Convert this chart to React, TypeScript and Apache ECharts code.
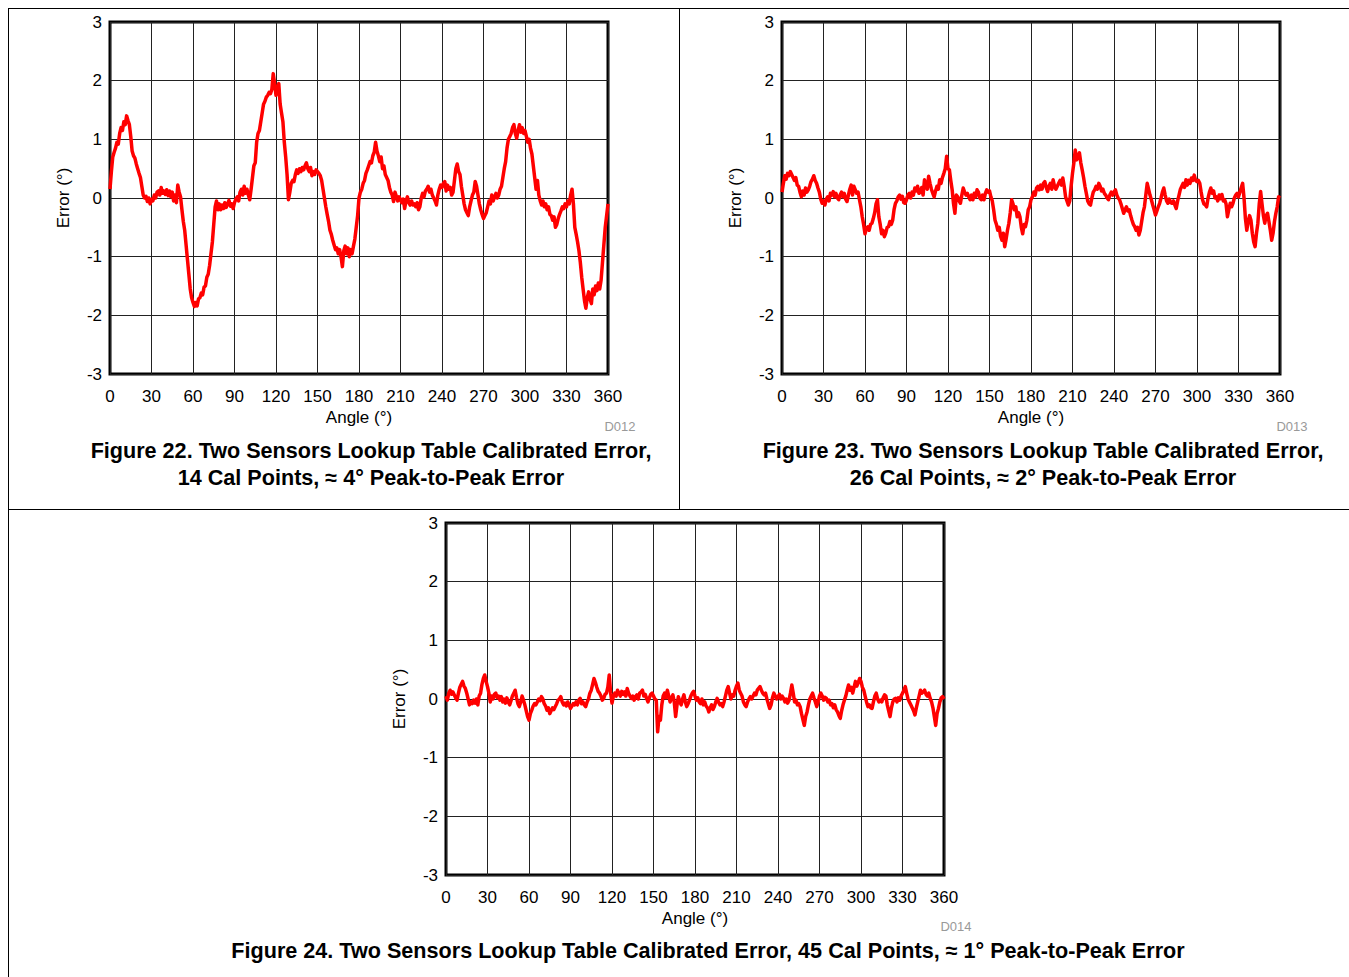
import React, { useEffect, useRef } from "react";
import * as echarts from "echarts";

// Sampling grid for all three traces: one reading per degree, 0..360
const ANGLE_STEP_DEG = 1;

const X_TICKS = [0, 30, 60, 90, 120, 150, 180, 210, 240, 270, 300, 330, 360];
const Y_TICKS = [-3, -2, -1, 0, 1, 2, 3];

// Figure 22: 14 cal points, error (deg) per degree of angle
const fig22Error = [
  0.15, 0.45, 0.7, 0.78, 0.85, 0.95, 0.92, 1.1, 1.2, 1.15,
  1.3, 1.25, 1.4, 1.32, 1.25, 1.05, 0.8, 0.72, 0.68, 0.58,
  0.5, 0.42, 0.35, 0.2, 0.05, 0.0, 0.03, -0.06, 0.0, -0.1,
  -0.02, -0.05, 0.05, 0.0, 0.1, 0.12, 0.05, 0.18, 0.08, 0.12,
  0.06, 0.14, 0.04, 0.12, 0.02, 0.1, -0.05, 0.05, -0.08, 0.22,
  0.1, 0.02, -0.2, -0.4, -0.55, -0.8, -1.05, -1.3, -1.55, -1.7,
  -1.78, -1.85, -1.78, -1.84, -1.72, -1.7, -1.62, -1.65, -1.52, -1.5,
  -1.35, -1.3, -1.15, -0.95, -0.75, -0.45, -0.15, -0.05, -0.2, -0.1,
  -0.2, -0.12, -0.18, -0.08, -0.16, -0.1, -0.04, -0.14, -0.1, -0.18,
  -0.08, -0.02, 0.02, -0.05, 0.1, 0.15, 0.05, 0.2, 0.08, 0.15,
  0.05, -0.03, 0.15, 0.35, 0.55, 0.6, 0.95, 1.1, 1.15, 1.3,
  1.45, 1.6, 1.65, 1.72, 1.75, 1.8, 1.78, 1.85, 2.12, 1.95,
  1.75, 1.85, 1.95, 1.6, 1.45, 1.3, 0.95, 0.7, 0.4, -0.03,
  0.1, 0.25, 0.3, 0.28, 0.4, 0.48, 0.42, 0.5, 0.45, 0.52,
  0.48, 0.55, 0.6, 0.5, 0.45, 0.52, 0.38, 0.45, 0.4, 0.48,
  0.45, 0.42, 0.38, 0.3, 0.15, 0.0, -0.15, -0.28, -0.4, -0.55,
  -0.62, -0.72, -0.8, -0.88, -0.85, -0.95, -0.88, -1.0, -1.17, -0.9,
  -0.82, -0.95, -0.85, -1.0, -0.88, -0.95, -0.82, -0.7, -0.5, -0.3,
  0.0, 0.1, 0.15, 0.25, 0.3, 0.42, 0.48, 0.55, 0.62, 0.6,
  0.72, 0.78, 0.95, 0.8, 0.72, 0.62, 0.7, 0.5, 0.55, 0.4,
  0.35, 0.3, 0.18, 0.1, 0.05, -0.06, 0.1, 0.03, -0.05, 0.02,
  -0.03, -0.08, -0.02, -0.18, -0.05, 0.02, -0.08, -0.12, -0.05, -0.12,
  -0.1, -0.15, -0.08, -0.2, -0.15, 0.0, 0.08, 0.02, 0.12, 0.15,
  0.2, 0.1, 0.15, 0.05, 0.0, -0.05, -0.12, 0.05, 0.15, 0.22,
  0.18, 0.25, 0.28, 0.12, 0.22, 0.15, 0.18, 0.05, 0.1, 0.3,
  0.5, 0.58, 0.45, 0.4, 0.2, 0.05, -0.1, -0.2, -0.25, -0.3,
  -0.15, -0.05, 0.05, 0.1, 0.28, 0.2, 0.05, -0.1, -0.2, -0.28,
  -0.35, -0.3, -0.25, -0.15, -0.05, -0.1, 0.05, -0.05, 0.02, 0.08,
  0.0, 0.05, 0.15, 0.2, 0.35, 0.5, 0.62, 0.85, 1.0, 1.05,
  1.1, 1.2, 1.25, 1.1, 1.02, 1.15, 1.25, 1.12, 1.2, 1.1,
  1.15, 1.05, 0.95, 1.0, 0.85, 0.75, 0.55, 0.35, 0.15, 0.3,
  0.05, -0.05, -0.12, -0.05, -0.15, -0.1, -0.2, -0.15, -0.28, -0.3,
  -0.38, -0.32, -0.5, -0.45, -0.35, -0.28, -0.22, -0.15, -0.18, -0.1,
  -0.15, -0.05, -0.1, 0.05, 0.15, -0.1, -0.5, -0.62, -0.75, -0.9,
  -1.1, -1.35, -1.55, -1.75, -1.88, -1.7, -1.6, -1.72, -1.8, -1.55,
  -1.65, -1.5, -1.58, -1.45, -1.55, -1.4, -1.1, -0.8, -0.5, -0.3,
  -0.1,
];

// Figure 23: 26 cal points
const fig23Error = [
  0.1, 0.25, 0.38, 0.32, 0.42, 0.38, 0.45, 0.4, 0.35, 0.3,
  0.35, 0.22, 0.2, 0.1, 0.02, 0.12, 0.05, 0.17, 0.1, 0.14,
  0.2, 0.28, 0.32, 0.38, 0.3, 0.25, 0.17, 0.1, -0.02, -0.09,
  -0.05, -0.12, -0.02, 0.02, -0.05, 0.08, 0.05, 0.11, 0.02, 0.08,
  0.0, -0.03, 0.05, 0.1, 0.02, 0.08, -0.02, -0.06, 0.05, 0.15,
  0.22, 0.05, 0.2, 0.14, 0.08, 0.1, -0.03, -0.15, -0.32, -0.45,
  -0.61, -0.52, -0.49, -0.55, -0.45, -0.43, -0.35, -0.25, -0.1, -0.03,
  -0.32, -0.45, -0.61, -0.55, -0.66, -0.6, -0.5, -0.49, -0.4, -0.45,
  -0.38, -0.2, -0.09, -0.05, 0.02, 0.05, -0.02, 0.03, -0.08, -0.09,
  -0.03, 0.05, 0.08, 0.0, 0.1, 0.05, 0.17, 0.12, 0.2, 0.08,
  0.1, 0.18, 0.05, 0.31, 0.2, 0.15, 0.37, 0.25, 0.15, 0.08,
  0.02, 0.12, 0.2, 0.15, 0.31, 0.25, 0.35, 0.42, 0.5, 0.71,
  0.5, 0.48, 0.3, 0.14, -0.1, -0.26, 0.05, 0.02, -0.05, -0.09,
  0.05, 0.17, 0.1, 0.05, 0.08, 0.02, -0.03, 0.05, -0.03, 0.08,
  0.02, 0.14, 0.1, 0.0, -0.03, 0.05, -0.03, 0.08, 0.14, 0.1,
  0.12, 0.02, -0.05, -0.2, -0.38, -0.45, -0.55, -0.5, -0.65, -0.72,
  -0.6, -0.83, -0.7, -0.55, -0.43, -0.25, -0.03, -0.1, -0.2, -0.15,
  -0.32, -0.25, -0.32, -0.5, -0.61, -0.45, -0.49, -0.38, -0.2, -0.15,
  -0.03, 0.02, 0.1, 0.05, 0.17, 0.2, 0.14, 0.22, 0.15, 0.25,
  0.28, 0.18, 0.11, 0.2, 0.25, 0.15, 0.31, 0.2, 0.15, 0.2,
  0.25, 0.3, 0.22, 0.34, 0.2, 0.02, -0.05, -0.12, -0.05, 0.2,
  0.42, 0.6, 0.82, 0.65, 0.71, 0.77, 0.6, 0.48, 0.35, 0.2,
  0.08, -0.05, -0.1, -0.12, 0.0, 0.1, 0.14, 0.2, 0.15, 0.25,
  0.2, 0.12, 0.15, 0.08, 0.05, 0.0, -0.03, 0.05, 0.1, 0.05,
  0.1, 0.14, 0.05, 0.0, -0.03, -0.1, -0.18, -0.26, -0.2, -0.15,
  -0.22, -0.2, -0.3, -0.38, -0.45, -0.49, -0.55, -0.5, -0.63, -0.55,
  -0.4, -0.25, -0.15, 0.05, 0.25, 0.15, 0.05, -0.03, -0.12, -0.2,
  -0.29, -0.22, -0.15, -0.09, 0.0, 0.1, 0.17, 0.05, -0.05, -0.09,
  -0.02, -0.08, -0.09, -0.05, -0.12, -0.18, -0.05, 0.05, 0.15, 0.2,
  0.25, 0.18, 0.31, 0.22, 0.3, 0.25, 0.34, 0.3, 0.39, 0.3,
  0.28, 0.3, 0.25, 0.1, -0.03, -0.1, -0.12, -0.15, 0.0, 0.1,
  0.17, 0.08, 0.12, 0.0, 0.02, -0.05, 0.05, -0.01, 0.06, -0.05,
  -0.03, -0.1, -0.32, -0.2, -0.09, -0.15, -0.09, 0.0, 0.05, 0.08,
  0.02, 0.1, 0.18, 0.25, 0.0, -0.35, -0.55, -0.4, -0.3, -0.38,
  -0.6, -0.75, -0.83, -0.6, -0.43, -0.1, 0.11, -0.1, -0.3, -0.43,
  -0.3, -0.26, -0.4, -0.55, -0.72, -0.6, -0.4, -0.26, -0.15, 0.02,
  0.0,
];

// Figure 24: 45 cal points
const fig24Error = [
  0.05, -0.02, 0.1, 0.15, 0.08, 0.12, 0.07, 0.02, -0.02, 0.1,
  0.2, 0.25, 0.3, 0.22, 0.18, 0.1, 0.0, -0.1, -0.05, -0.08,
  -0.02, -0.07, 0.0, -0.1, 0.05, 0.1, 0.25, 0.35, 0.41, 0.3,
  0.21, 0.1, -0.05, 0.05, 0.0, 0.08, 0.1, 0.02, 0.05, -0.02,
  0.04, -0.05, 0.0, -0.07, 0.02, -0.05, -0.1, -0.03, 0.05, 0.1,
  0.15, 0.02, -0.08, -0.13, -0.05, 0.05, -0.02, -0.1, -0.2, -0.3,
  -0.36, -0.25, -0.19, -0.12, -0.08, -0.1, -0.05, 0.0, -0.03, 0.04,
  0.0, -0.08, -0.12, -0.19, -0.15, -0.25, -0.2, -0.15, -0.18, -0.13,
  -0.08, -0.02, 0.0, 0.04, -0.05, -0.1, -0.07, -0.12, -0.05, -0.1,
  -0.16, -0.12, -0.08, -0.1, -0.05, -0.1, -0.02, 0.01, -0.08, -0.05,
  -0.1, -0.13, -0.05, 0.0, 0.1, 0.15, 0.25, 0.35, 0.28, 0.2,
  0.13, 0.1, 0.05, -0.02, 0.01, 0.08, 0.1, 0.2, 0.41, 0.1,
  -0.07, 0.05, 0.1, 0.05, 0.15, 0.1, 0.05, 0.13, 0.08, 0.12,
  0.05, 0.18, 0.1, 0.05, 0.01, 0.05, -0.02, 0.04, 0.07, 0.0,
  0.1, 0.12, 0.15, 0.05, 0.08, 0.01, -0.05, 0.02, 0.08, 0.1,
  0.05, 0.0, -0.02, -0.56, -0.3, -0.36, -0.1, 0.05, 0.1, 0.02,
  0.15, 0.05, -0.05, 0.02, 0.07, -0.05, -0.3, -0.1, 0.04, -0.05,
  -0.1, 0.0, 0.07, -0.05, -0.13, -0.08, -0.02, 0.05, 0.1, 0.13,
  0.05, -0.02, 0.02, -0.05, -0.08, 0.0, -0.1, -0.05, -0.12, -0.15,
  -0.22, -0.15, -0.1, -0.18, -0.13, -0.05, 0.01, -0.05, -0.1, -0.08,
  -0.13, -0.05, 0.05, 0.15, 0.21, 0.1, 0.0, 0.07, 0.05, 0.15,
  0.22, 0.27, 0.15, 0.1, 0.05, -0.05, -0.1, -0.13, -0.05, 0.0,
  0.04, 0.0, 0.05, 0.1, 0.07, 0.15, 0.18, 0.21, 0.15, 0.1,
  0.07, 0.1, 0.0, -0.08, -0.16, -0.1, 0.02, 0.1, 0.05, 0.0,
  0.04, 0.08, 0.0, 0.05, 0.01, -0.05, 0.0, -0.07, -0.02, 0.1,
  0.24, 0.1, -0.05, -0.02, -0.1, -0.08, -0.13, -0.25, -0.35, -0.45,
  -0.3, -0.22, -0.1, 0.0, 0.05, 0.1, 0.02, -0.05, -0.13, -0.05,
  0.05, 0.1, 0.05, -0.02, 0.03, 0.01, -0.05, -0.02, -0.1, -0.08,
  -0.15, -0.1, -0.18, -0.22, -0.28, -0.33, -0.2, -0.1, -0.02, 0.05,
  0.15, 0.24, 0.15, 0.2, 0.1, 0.2, 0.3, 0.22, 0.28, 0.35,
  0.3, 0.2, 0.15, 0.05, -0.05, -0.13, -0.1, -0.15, -0.16, -0.05,
  0.05, 0.1, 0.0, -0.05, -0.02, -0.05, 0.02, 0.07, 0.05, -0.1,
  -0.2, -0.3, -0.15, -0.05, 0.0, 0.01, -0.05, 0.02, -0.02, 0.05,
  0.1, 0.15, 0.21, 0.1, 0.0, -0.05, -0.1, -0.15, -0.2, -0.27,
  -0.15, -0.05, 0.05, 0.15, 0.1, 0.12, 0.15, 0.08, 0.05, 0.1,
  0.01, -0.05, -0.15, -0.3, -0.45, -0.25, -0.16, -0.05, 0.02, 0.04,
  0.0,
];

const FIG_TITLES_22 = ["Figure 22. Two Sensors Lookup Table Calibrated Error,", "14 Cal Points, \u2248 4\u00b0 Peak-to-Peak Error"];
const FIG_TITLES_23 = ["Figure 23. Two Sensors Lookup Table Calibrated Error,", "26 Cal Points, \u2248 2\u00b0 Peak-to-Peak Error"];
const FIG_TITLE_24 = "Figure 24. Two Sensors Lookup Table Calibrated Error, 45 Cal Points, \u2248 1\u00b0 Peak-to-Peak Error";
const FIG_CODES = ["D012", "D013", "D014"];
const X_NAME = "Angle (\u00b0)";
const Y_NAME = "Error (\u00b0)";

const FONT = "'Liberation Sans', Arial, sans-serif";

function toPairs(values: number[]) {
  return values.map((v, i) => [i * ANGLE_STEP_DEG, v]);
}

export default function App() {
  const ref = useRef<HTMLDivElement>(null);

  useEffect(() => {
    if (!ref.current) return;
    const chart = echarts.init(ref.current, undefined, { renderer: "svg" });

    const grids = [
      { left: 110, top: 22, width: 498, height: 352 },
      { left: 782, top: 22, width: 498, height: 352 },
      { left: 446, top: 523, width: 498, height: 352 },
    ];

    const xAxes = grids.map((_, i) => ({
      type: "value",
      gridIndex: i,
      min: X_TICKS[0],
      max: X_TICKS[X_TICKS.length - 1],
      interval: X_TICKS[1] - X_TICKS[0],
      name: X_NAME,
      nameLocation: "middle",
      nameGap: 35,
      nameTextStyle: { fontFamily: FONT, fontSize: 17, color: "#000" },
      axisLine: { show: false },
      axisTick: { show: false },
      axisLabel: { margin: 14, fontFamily: FONT, fontSize: 17, color: "#000" },
      splitLine: { show: true, lineStyle: { color: "#222", width: 1 } },
    }));

    const yAxes = grids.map((_, i) => ({
      type: "value",
      gridIndex: i,
      min: Y_TICKS[0],
      max: Y_TICKS[Y_TICKS.length - 1],
      interval: Y_TICKS[1] - Y_TICKS[0],
      name: Y_NAME,
      nameLocation: "middle",
      nameGap: 38,
      nameTextStyle: { fontFamily: FONT, fontSize: 17, color: "#000" },
      axisLine: { show: false },
      axisTick: { show: false },
      axisLabel: { margin: 8, fontFamily: FONT, fontSize: 17, color: "#000" },
      splitLine: { show: true, lineStyle: { color: "#222", width: 1 } },
    }));

    const traces = [fig22Error, fig23Error, fig24Error];
    const series = traces.map((vals, i) => ({
      type: "line",
      xAxisIndex: i,
      yAxisIndex: i,
      data: toPairs(vals),
      showSymbol: false,
      symbol: "none",
      lineStyle: { color: "#ff0000", width: 3.5, join: "round" },
      z: 5,
    }));

    const lineStyle = { stroke: "#000", lineWidth: 1 };
    const titleStyle = (text: string, x: number, y: number) => ({
      type: "text",
      x,
      y,
      style: {
        text,
        fill: "#000",
        font: `bold 21.6px ${FONT}`,
        textAlign: "center",
        textVerticalAlign: "middle",
      },
    });
    const codeStyle = (text: string, x: number, y: number) => ({
      type: "text",
      x,
      y,
      style: {
        text,
        fill: "#999",
        font: `13px ${FONT}`,
        textAlign: "center",
        textVerticalAlign: "middle",
      },
    });

    chart.setOption({
      animation: false,
      backgroundColor: "#fff",
      grid: grids.map((g) => ({ ...g, show: true, borderColor: "#000", borderWidth: 3, backgroundColor: "transparent" })),
      xAxis: xAxes,
      yAxis: yAxes,
      series,
      graphic: [
        { type: "line", shape: { x1: 8, y1: 8.5, x2: 1349, y2: 8.5 }, style: lineStyle },
        { type: "line", shape: { x1: 8.5, y1: 8, x2: 8.5, y2: 977 }, style: lineStyle },
        { type: "line", shape: { x1: 8, y1: 509.5, x2: 1349, y2: 509.5 }, style: lineStyle },
        { type: "line", shape: { x1: 679.5, y1: 8, x2: 679.5, y2: 509 }, style: lineStyle },
        titleStyle(FIG_TITLES_22[0], 371, 450),
        titleStyle(FIG_TITLES_22[1], 371, 477),
        titleStyle(FIG_TITLES_23[0], 1043, 450),
        titleStyle(FIG_TITLES_23[1], 1043, 477),
        titleStyle(FIG_TITLE_24, 708, 950),
        codeStyle(FIG_CODES[0], 620, 426),
        codeStyle(FIG_CODES[1], 1292, 426),
        codeStyle(FIG_CODES[2], 956, 926),
      ],
    });

    return () => chart.dispose();
  }, []);

  return (
    <div
      ref={ref}
      style={{ position: "absolute", left: 0, top: 0, width: 1349, height: 977, background: "#fff" }}
    />
  );
}
